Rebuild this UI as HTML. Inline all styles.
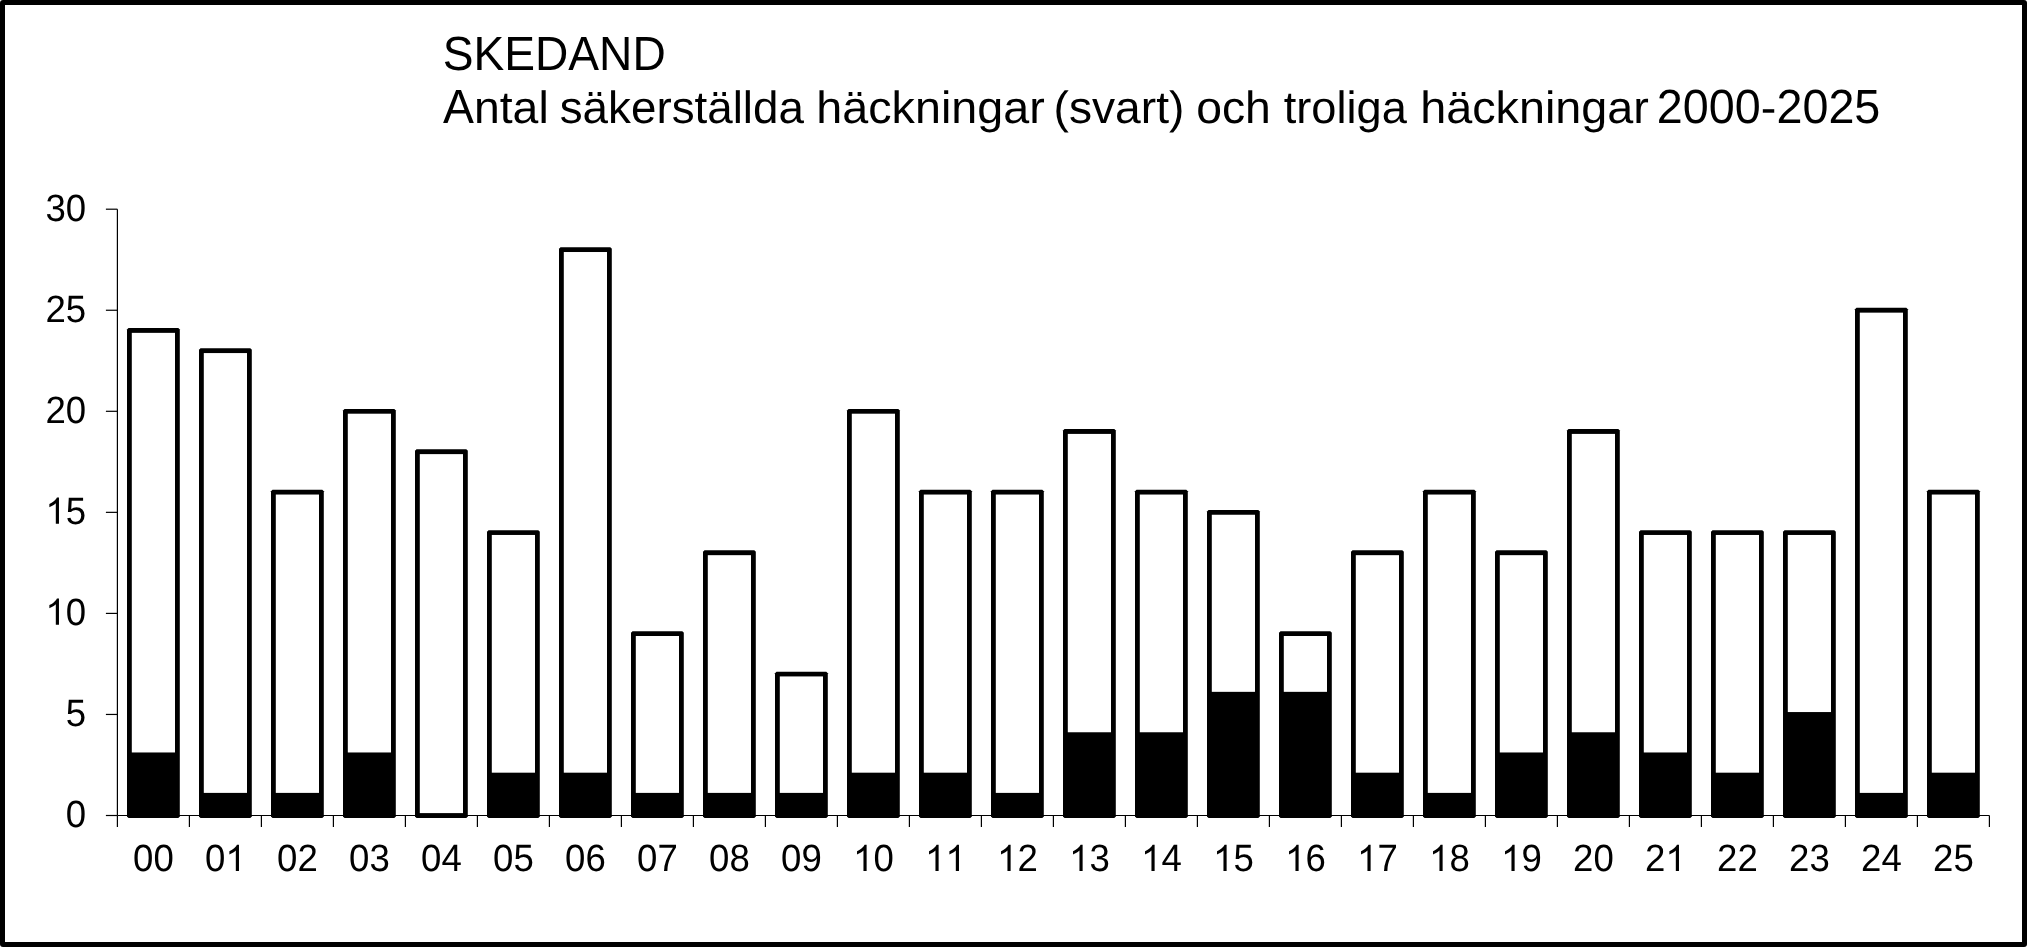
<!DOCTYPE html>
<html><head><meta charset="utf-8"><title>SKEDAND</title>
<style>html,body{margin:0;padding:0;background:#fff;width:2027px;height:947px;overflow:hidden}svg{display:block;will-change:transform}text{font-family:"Liberation Sans",sans-serif;font-kerning:none;text-rendering:geometricPrecision}</style>
</head><body><svg width="2027" height="947" viewBox="0 0 2027 947" font-family="Liberation Sans, sans-serif" fill="#000"><rect x="0" y="0" width="2027" height="947" rx="3" fill="#000"/><rect x="5" y="5" width="2017" height="937" fill="#fff"/><text transform="translate(442.71,69.7) scale(1.0028,1.0412)" font-size="46">SKEDAND</text><text transform="translate(443.01,122.6) scale(1.0081,1.0412)" font-size="46">A</text><text transform="translate(473.94,122.6) scale(1.0081,0.9850)" font-size="46">ntal</text><text transform="translate(559.73,122.6) scale(0.9948,0.9850)" font-size="46">säkerställda</text><text transform="translate(816.36,122.6) scale(1.0146,0.9850)" font-size="46">häckningar</text><text transform="translate(1053.54,122.6) scale(1.0039,0.9850)" font-size="46">(svart)</text><text transform="translate(1196.16,122.6) scale(1.0065,0.9850)" font-size="46">och</text><text transform="translate(1283.72,122.6) scale(0.9824,0.9850)" font-size="46">troliga</text><text transform="translate(1420.16,122.6) scale(1.0164,0.9850)" font-size="46">häckningar</text><text transform="translate(1656.85,122.6) scale(1.0161,1.0412)" font-size="46">2000</text><text transform="translate(1760.82,122.6) scale(1.0161,0.9850)" font-size="46">-</text><text transform="translate(1776.39,122.6) scale(1.0161,1.0412)" font-size="46">2025</text><line x1="117.4" y1="209.2" x2="117.4" y2="815.5" stroke="#000" stroke-width="1.2"/><line x1="105.9" y1="815.5" x2="117.4" y2="815.5" stroke="#000" stroke-width="1.2"/><text transform="translate(65.74,826.9) scale(1,1.0412)" font-size="36.6">0</text><line x1="105.9" y1="714.45" x2="117.4" y2="714.45" stroke="#000" stroke-width="1.2"/><text transform="translate(65.74,725.85) scale(1,1.0412)" font-size="36.6">5</text><line x1="105.9" y1="613.4" x2="117.4" y2="613.4" stroke="#000" stroke-width="1.2"/><path d="M760 0L583 0L583 1147Q518 1085 465 1054Q412 1023 359.5 992Q307 961 223 930L223 1104Q374 1175 430.5 1225.5Q487 1276 543.5 1326.5Q600 1377 647 1472L760 1472Z" transform="translate(45.39,624.8) scale(0.017871,-0.017871)"/><text transform="translate(65.74,624.8) scale(1,1.0412)" font-size="36.6">0</text><line x1="105.9" y1="512.35" x2="117.4" y2="512.35" stroke="#000" stroke-width="1.2"/><path d="M760 0L583 0L583 1147Q518 1085 465 1054Q412 1023 359.5 992Q307 961 223 930L223 1104Q374 1175 430.5 1225.5Q487 1276 543.5 1326.5Q600 1377 647 1472L760 1472Z" transform="translate(45.39,523.75) scale(0.017871,-0.017871)"/><text transform="translate(65.74,523.75) scale(1,1.0412)" font-size="36.6">5</text><line x1="105.9" y1="411.3" x2="117.4" y2="411.3" stroke="#000" stroke-width="1.2"/><text transform="translate(45.39,422.7) scale(1,1.0412)" font-size="36.6">2</text><text transform="translate(65.74,422.7) scale(1,1.0412)" font-size="36.6">0</text><line x1="105.9" y1="310.25" x2="117.4" y2="310.25" stroke="#000" stroke-width="1.2"/><text transform="translate(45.39,321.65) scale(1,1.0412)" font-size="36.6">2</text><text transform="translate(65.74,321.65) scale(1,1.0412)" font-size="36.6">5</text><line x1="105.9" y1="209.2" x2="117.4" y2="209.2" stroke="#000" stroke-width="1.2"/><text transform="translate(45.39,220.6) scale(1,1.0412)" font-size="36.6">3</text><text transform="translate(65.74,220.6) scale(1,1.0412)" font-size="36.6">0</text><path d="M128.5 328.06H178.3L179.8 329.56V816.4L178.3 817.9H128.5L127 816.4V329.56Z"/><rect x="131.8" y="332.86" width="43.2" height="419.61" fill="#fff"/><path d="M200.5 348.27H250.3L251.8 349.77V816.4L250.3 817.9H200.5L199 816.4V349.77Z"/><rect x="203.8" y="353.07" width="43.2" height="439.82" fill="#fff"/><path d="M272.5 489.74H322.3L323.8 491.24V816.4L322.3 817.9H272.5L271 816.4V491.24Z"/><rect x="275.8" y="494.54" width="43.2" height="298.35" fill="#fff"/><path d="M344.5 408.9H394.3L395.8 410.4V816.4L394.3 817.9H344.5L343 816.4V410.4Z"/><rect x="347.8" y="413.7" width="43.2" height="338.77" fill="#fff"/><path d="M416.5 449.32H466.3L467.8 450.82V816.4L466.3 817.9H416.5L415 816.4V450.82Z"/><rect x="419.8" y="454.12" width="43.2" height="358.98" fill="#fff"/><path d="M488.5 530.16H538.3L539.8 531.66V816.4L538.3 817.9H488.5L487 816.4V531.66Z"/><rect x="491.8" y="534.96" width="43.2" height="237.72" fill="#fff"/><path d="M560.5 247.22H610.3L611.8 248.72V816.4L610.3 817.9H560.5L559 816.4V248.72Z"/><rect x="563.8" y="252.02" width="43.2" height="520.66" fill="#fff"/><path d="M632.5 631.21H682.3L683.8 632.71V816.4L682.3 817.9H632.5L631 816.4V632.71Z"/><rect x="635.8" y="636.01" width="43.2" height="156.88" fill="#fff"/><path d="M704.5 550.37H754.3L755.8 551.87V816.4L754.3 817.9H704.5L703 816.4V551.87Z"/><rect x="707.8" y="555.17" width="43.2" height="237.72" fill="#fff"/><path d="M776.5 671.63H826.3L827.8 673.13V816.4L826.3 817.9H776.5L775 816.4V673.13Z"/><rect x="779.8" y="676.43" width="43.2" height="116.46" fill="#fff"/><path d="M848.5 408.9H898.3L899.8 410.4V816.4L898.3 817.9H848.5L847 816.4V410.4Z"/><rect x="851.8" y="413.7" width="43.2" height="358.98" fill="#fff"/><path d="M920.5 489.74H970.3L971.8 491.24V816.4L970.3 817.9H920.5L919 816.4V491.24Z"/><rect x="923.8" y="494.54" width="43.2" height="278.14" fill="#fff"/><path d="M992.5 489.74H1042.3L1043.8 491.24V816.4L1042.3 817.9H992.5L991 816.4V491.24Z"/><rect x="995.8" y="494.54" width="43.2" height="298.35" fill="#fff"/><path d="M1064.5 429.11H1114.3L1115.8 430.61V816.4L1114.3 817.9H1064.5L1063 816.4V430.61Z"/><rect x="1067.8" y="433.91" width="43.2" height="298.35" fill="#fff"/><path d="M1136.5 489.74H1186.3L1187.8 491.24V816.4L1186.3 817.9H1136.5L1135 816.4V491.24Z"/><rect x="1139.8" y="494.54" width="43.2" height="237.72" fill="#fff"/><path d="M1208.5 509.95H1258.3L1259.8 511.45V816.4L1258.3 817.9H1208.5L1207 816.4V511.45Z"/><rect x="1211.8" y="514.75" width="43.2" height="177.09" fill="#fff"/><path d="M1280.5 631.21H1330.3L1331.8 632.71V816.4L1330.3 817.9H1280.5L1279 816.4V632.71Z"/><rect x="1283.8" y="636.01" width="43.2" height="55.83" fill="#fff"/><path d="M1352.5 550.37H1402.3L1403.8 551.87V816.4L1402.3 817.9H1352.5L1351 816.4V551.87Z"/><rect x="1355.8" y="555.17" width="43.2" height="217.51" fill="#fff"/><path d="M1424.5 489.74H1474.3L1475.8 491.24V816.4L1474.3 817.9H1424.5L1423 816.4V491.24Z"/><rect x="1427.8" y="494.54" width="43.2" height="298.35" fill="#fff"/><path d="M1496.5 550.37H1546.3L1547.8 551.87V816.4L1546.3 817.9H1496.5L1495 816.4V551.87Z"/><rect x="1499.8" y="555.17" width="43.2" height="197.3" fill="#fff"/><path d="M1568.5 429.11H1618.3L1619.8 430.61V816.4L1618.3 817.9H1568.5L1567 816.4V430.61Z"/><rect x="1571.8" y="433.91" width="43.2" height="298.35" fill="#fff"/><path d="M1640.5 530.16H1690.3L1691.8 531.66V816.4L1690.3 817.9H1640.5L1639 816.4V531.66Z"/><rect x="1643.8" y="534.96" width="43.2" height="217.51" fill="#fff"/><path d="M1712.5 530.16H1762.3L1763.8 531.66V816.4L1762.3 817.9H1712.5L1711 816.4V531.66Z"/><rect x="1715.8" y="534.96" width="43.2" height="237.72" fill="#fff"/><path d="M1784.5 530.16H1834.3L1835.8 531.66V816.4L1834.3 817.9H1784.5L1783 816.4V531.66Z"/><rect x="1787.8" y="534.96" width="43.2" height="177.09" fill="#fff"/><path d="M1856.5 307.85H1906.3L1907.8 309.35V816.4L1906.3 817.9H1856.5L1855 816.4V309.35Z"/><rect x="1859.8" y="312.65" width="43.2" height="480.24" fill="#fff"/><path d="M1928.5 489.74H1978.3L1979.8 491.24V816.4L1978.3 817.9H1928.5L1927 816.4V491.24Z"/><rect x="1931.8" y="494.54" width="43.2" height="278.14" fill="#fff"/><line x1="117.4" y1="815.5" x2="1989.4" y2="815.5" stroke="#000" stroke-width="1.2"/><line x1="117.4" y1="815.5" x2="117.4" y2="827" stroke="#000" stroke-width="1.2"/><line x1="189.4" y1="815.5" x2="189.4" y2="827" stroke="#000" stroke-width="1.2"/><line x1="261.4" y1="815.5" x2="261.4" y2="827" stroke="#000" stroke-width="1.2"/><line x1="333.4" y1="815.5" x2="333.4" y2="827" stroke="#000" stroke-width="1.2"/><line x1="405.4" y1="815.5" x2="405.4" y2="827" stroke="#000" stroke-width="1.2"/><line x1="477.4" y1="815.5" x2="477.4" y2="827" stroke="#000" stroke-width="1.2"/><line x1="549.4" y1="815.5" x2="549.4" y2="827" stroke="#000" stroke-width="1.2"/><line x1="621.4" y1="815.5" x2="621.4" y2="827" stroke="#000" stroke-width="1.2"/><line x1="693.4" y1="815.5" x2="693.4" y2="827" stroke="#000" stroke-width="1.2"/><line x1="765.4" y1="815.5" x2="765.4" y2="827" stroke="#000" stroke-width="1.2"/><line x1="837.4" y1="815.5" x2="837.4" y2="827" stroke="#000" stroke-width="1.2"/><line x1="909.4" y1="815.5" x2="909.4" y2="827" stroke="#000" stroke-width="1.2"/><line x1="981.4" y1="815.5" x2="981.4" y2="827" stroke="#000" stroke-width="1.2"/><line x1="1053.4" y1="815.5" x2="1053.4" y2="827" stroke="#000" stroke-width="1.2"/><line x1="1125.4" y1="815.5" x2="1125.4" y2="827" stroke="#000" stroke-width="1.2"/><line x1="1197.4" y1="815.5" x2="1197.4" y2="827" stroke="#000" stroke-width="1.2"/><line x1="1269.4" y1="815.5" x2="1269.4" y2="827" stroke="#000" stroke-width="1.2"/><line x1="1341.4" y1="815.5" x2="1341.4" y2="827" stroke="#000" stroke-width="1.2"/><line x1="1413.4" y1="815.5" x2="1413.4" y2="827" stroke="#000" stroke-width="1.2"/><line x1="1485.4" y1="815.5" x2="1485.4" y2="827" stroke="#000" stroke-width="1.2"/><line x1="1557.4" y1="815.5" x2="1557.4" y2="827" stroke="#000" stroke-width="1.2"/><line x1="1629.4" y1="815.5" x2="1629.4" y2="827" stroke="#000" stroke-width="1.2"/><line x1="1701.4" y1="815.5" x2="1701.4" y2="827" stroke="#000" stroke-width="1.2"/><line x1="1773.4" y1="815.5" x2="1773.4" y2="827" stroke="#000" stroke-width="1.2"/><line x1="1845.4" y1="815.5" x2="1845.4" y2="827" stroke="#000" stroke-width="1.2"/><line x1="1917.4" y1="815.5" x2="1917.4" y2="827" stroke="#000" stroke-width="1.2"/><line x1="1989.4" y1="815.5" x2="1989.4" y2="827" stroke="#000" stroke-width="1.2"/><text transform="translate(133.04,871) scale(1,1.0412)" font-size="36.6">0</text><text transform="translate(153.4,871) scale(1,1.0412)" font-size="36.6">0</text><text transform="translate(205.04,871) scale(1,1.0412)" font-size="36.6">0</text><path d="M760 0L583 0L583 1147Q518 1085 465 1054Q412 1023 359.5 992Q307 961 223 930L223 1104Q374 1175 430.5 1225.5Q487 1276 543.5 1326.5Q600 1377 647 1472L760 1472Z" transform="translate(225.4,871) scale(0.017871,-0.017871)"/><text transform="translate(277.04,871) scale(1,1.0412)" font-size="36.6">0</text><text transform="translate(297.4,871) scale(1,1.0412)" font-size="36.6">2</text><text transform="translate(349.04,871) scale(1,1.0412)" font-size="36.6">0</text><text transform="translate(369.4,871) scale(1,1.0412)" font-size="36.6">3</text><text transform="translate(421.04,871) scale(1,1.0412)" font-size="36.6">0</text><text transform="translate(441.4,871) scale(1,1.0412)" font-size="36.6">4</text><text transform="translate(493.04,871) scale(1,1.0412)" font-size="36.6">0</text><text transform="translate(513.4,871) scale(1,1.0412)" font-size="36.6">5</text><text transform="translate(565.04,871) scale(1,1.0412)" font-size="36.6">0</text><text transform="translate(585.4,871) scale(1,1.0412)" font-size="36.6">6</text><text transform="translate(637.04,871) scale(1,1.0412)" font-size="36.6">0</text><text transform="translate(657.4,871) scale(1,1.0412)" font-size="36.6">7</text><text transform="translate(709.04,871) scale(1,1.0412)" font-size="36.6">0</text><text transform="translate(729.4,871) scale(1,1.0412)" font-size="36.6">8</text><text transform="translate(781.04,871) scale(1,1.0412)" font-size="36.6">0</text><text transform="translate(801.4,871) scale(1,1.0412)" font-size="36.6">9</text><path d="M760 0L583 0L583 1147Q518 1085 465 1054Q412 1023 359.5 992Q307 961 223 930L223 1104Q374 1175 430.5 1225.5Q487 1276 543.5 1326.5Q600 1377 647 1472L760 1472Z" transform="translate(853.04,871) scale(0.017871,-0.017871)"/><text transform="translate(873.4,871) scale(1,1.0412)" font-size="36.6">0</text><path d="M760 0L583 0L583 1147Q518 1085 465 1054Q412 1023 359.5 992Q307 961 223 930L223 1104Q374 1175 430.5 1225.5Q487 1276 543.5 1326.5Q600 1377 647 1472L760 1472Z" transform="translate(925.04,871) scale(0.017871,-0.017871)"/><path d="M760 0L583 0L583 1147Q518 1085 465 1054Q412 1023 359.5 992Q307 961 223 930L223 1104Q374 1175 430.5 1225.5Q487 1276 543.5 1326.5Q600 1377 647 1472L760 1472Z" transform="translate(945.4,871) scale(0.017871,-0.017871)"/><path d="M760 0L583 0L583 1147Q518 1085 465 1054Q412 1023 359.5 992Q307 961 223 930L223 1104Q374 1175 430.5 1225.5Q487 1276 543.5 1326.5Q600 1377 647 1472L760 1472Z" transform="translate(997.04,871) scale(0.017871,-0.017871)"/><text transform="translate(1017.4,871) scale(1,1.0412)" font-size="36.6">2</text><path d="M760 0L583 0L583 1147Q518 1085 465 1054Q412 1023 359.5 992Q307 961 223 930L223 1104Q374 1175 430.5 1225.5Q487 1276 543.5 1326.5Q600 1377 647 1472L760 1472Z" transform="translate(1069.04,871) scale(0.017871,-0.017871)"/><text transform="translate(1089.4,871) scale(1,1.0412)" font-size="36.6">3</text><path d="M760 0L583 0L583 1147Q518 1085 465 1054Q412 1023 359.5 992Q307 961 223 930L223 1104Q374 1175 430.5 1225.5Q487 1276 543.5 1326.5Q600 1377 647 1472L760 1472Z" transform="translate(1141.04,871) scale(0.017871,-0.017871)"/><text transform="translate(1161.4,871) scale(1,1.0412)" font-size="36.6">4</text><path d="M760 0L583 0L583 1147Q518 1085 465 1054Q412 1023 359.5 992Q307 961 223 930L223 1104Q374 1175 430.5 1225.5Q487 1276 543.5 1326.5Q600 1377 647 1472L760 1472Z" transform="translate(1213.04,871) scale(0.017871,-0.017871)"/><text transform="translate(1233.4,871) scale(1,1.0412)" font-size="36.6">5</text><path d="M760 0L583 0L583 1147Q518 1085 465 1054Q412 1023 359.5 992Q307 961 223 930L223 1104Q374 1175 430.5 1225.5Q487 1276 543.5 1326.5Q600 1377 647 1472L760 1472Z" transform="translate(1285.04,871) scale(0.017871,-0.017871)"/><text transform="translate(1305.4,871) scale(1,1.0412)" font-size="36.6">6</text><path d="M760 0L583 0L583 1147Q518 1085 465 1054Q412 1023 359.5 992Q307 961 223 930L223 1104Q374 1175 430.5 1225.5Q487 1276 543.5 1326.5Q600 1377 647 1472L760 1472Z" transform="translate(1357.04,871) scale(0.017871,-0.017871)"/><text transform="translate(1377.4,871) scale(1,1.0412)" font-size="36.6">7</text><path d="M760 0L583 0L583 1147Q518 1085 465 1054Q412 1023 359.5 992Q307 961 223 930L223 1104Q374 1175 430.5 1225.5Q487 1276 543.5 1326.5Q600 1377 647 1472L760 1472Z" transform="translate(1429.04,871) scale(0.017871,-0.017871)"/><text transform="translate(1449.4,871) scale(1,1.0412)" font-size="36.6">8</text><path d="M760 0L583 0L583 1147Q518 1085 465 1054Q412 1023 359.5 992Q307 961 223 930L223 1104Q374 1175 430.5 1225.5Q487 1276 543.5 1326.5Q600 1377 647 1472L760 1472Z" transform="translate(1501.04,871) scale(0.017871,-0.017871)"/><text transform="translate(1521.4,871) scale(1,1.0412)" font-size="36.6">9</text><text transform="translate(1573.04,871) scale(1,1.0412)" font-size="36.6">2</text><text transform="translate(1593.4,871) scale(1,1.0412)" font-size="36.6">0</text><text transform="translate(1645.04,871) scale(1,1.0412)" font-size="36.6">2</text><path d="M760 0L583 0L583 1147Q518 1085 465 1054Q412 1023 359.5 992Q307 961 223 930L223 1104Q374 1175 430.5 1225.5Q487 1276 543.5 1326.5Q600 1377 647 1472L760 1472Z" transform="translate(1665.4,871) scale(0.017871,-0.017871)"/><text transform="translate(1717.04,871) scale(1,1.0412)" font-size="36.6">2</text><text transform="translate(1737.4,871) scale(1,1.0412)" font-size="36.6">2</text><text transform="translate(1789.04,871) scale(1,1.0412)" font-size="36.6">2</text><text transform="translate(1809.4,871) scale(1,1.0412)" font-size="36.6">3</text><text transform="translate(1861.04,871) scale(1,1.0412)" font-size="36.6">2</text><text transform="translate(1881.4,871) scale(1,1.0412)" font-size="36.6">4</text><text transform="translate(1933.04,871) scale(1,1.0412)" font-size="36.6">2</text><text transform="translate(1953.4,871) scale(1,1.0412)" font-size="36.6">5</text></svg></body></html>
